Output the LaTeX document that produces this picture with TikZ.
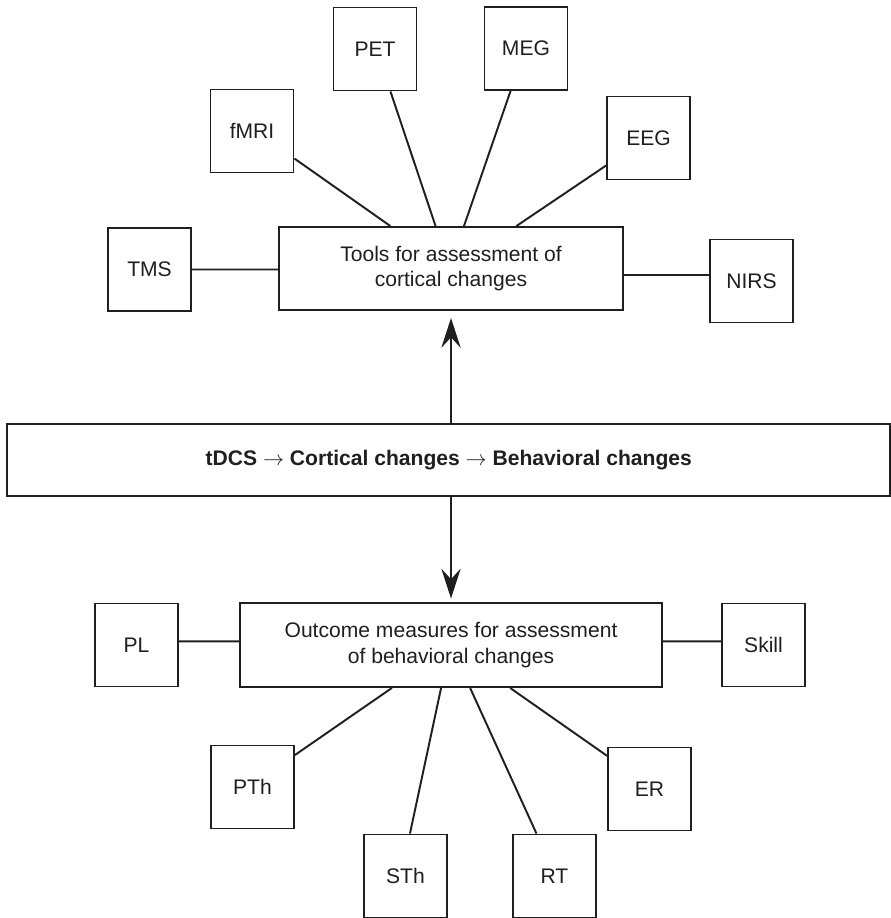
\documentclass[tikz,border=0pt]{standalone}
\usepackage{fontspec}
\setmainfont{Liberation Sans}
\usetikzlibrary{arrows.meta}
\tikzset{
    every node/.style={font=\fontsize{12}{14.5}\selectfont, text=black!88}, % text size of every label
    small/.style={draw=black!88, line width=1.1pt, minimum width=1.66cm, minimum height=1.66cm, inner sep=0pt}, % the square boxes
    wide/.style={draw=black!88, line width=1.1pt, align=center, inner sep=0pt}, % the long boxes
    link/.style={draw=black!88, line width=1.1pt}, % plain connecting lines
    >={Stealth[length=17pt, width=11pt, inset=6pt]}, % big arrow heads
}

\begin{document}
\begin{tikzpicture}[x=0.02cm, y=-0.02cm]
        \useasboundingbox (0,0) rectangle (891,918);
        % tools round the upper box
        \node[small] (tms) at (149.5,269.5) {TMS};
        \node[small] (fmri) at (252,131) {fMRI};
        \node[small] (pet) at (375,49) {PET};
        \node[small] (meg) at (526,48.5) {MEG};
        \node[small] (eeg) at (648.5,138) {EEG};
        \node[small] (nirs) at (751.5,281) {NIRS};
        \node[wide, minimum width=6.88cm, minimum height=1.66cm] (tools) at (451,268.5) {Tools for assessment of\\cortical changes};
        % middle chain
        \node[wide, font=\fontsize{12}{14.5}\selectfont\bfseries, minimum width=17.67cm, minimum height=1.44cm] (chain) at (448.75,460) {tDCS $\rightarrow$ Cortical changes $\rightarrow$ Behavioral changes};
        % measures round the lower box
        \node[wide, minimum width=8.44cm, minimum height=1.68cm] (outcome) at (451,645) {Outcome measures for assessment\\of behavioral changes};
        \node[small] (pl) at (136.5,645) {PL};
        \node[small] (skill) at (763.5,645) {Skill};
        \node[small] (pth) at (252.5,787) {PTh};
        \node[small] (sth) at (405.5,876) {STh};
        \node[small] (rt) at (554.5,876) {RT};
        \node[small] (er) at (649.5,789) {ER};
        \draw[link] (tms.east) -- (tms.east -| tools.west)
            (fmri.-33) -- (tools.145)
            (pet.-70) -- (tools.110)
            (meg.-110) -- (tools.73)
            (eeg.-147) -- (tools.33)
            (nirs.172) -- (nirs.172 -| tools.east)
            (pl.5) -- (pl.5 -| outcome.west)
            (skill.175) -- (skill.175 -| outcome.east)
            (pth.37) -- (outcome.-144)
            (sth.84) -- (outcome.-103)
            (rt.113) -- (outcome.-66)
            (er.142) -- (outcome.-36);
        \draw[link, ->, shorten >=4pt] (chain.north -| tools.south) -- (tools.south);
        \draw[link, ->, shorten >=2pt] (chain.south -| outcome.north) -- (outcome.north);
    \end{tikzpicture}
\end{document}
